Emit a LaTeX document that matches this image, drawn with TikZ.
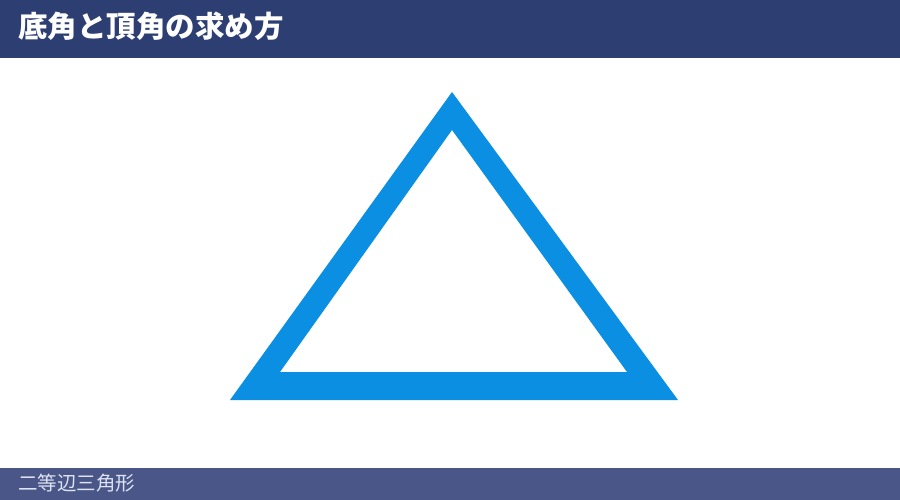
\documentclass[tikz,border=0pt]{standalone}
\usepackage{fontspec}
\newfontfamily\jpfont{Noto Sans CJK JP}
\definecolor{headnavy}{RGB}{45,62,115}
\definecolor{footnavy}{RGB}{74,86,135}
\definecolor{triblue}{RGB}{10,143,226}
\definecolor{foottext}{RGB}{222,228,245}
\tikzset{
  bartitle/.style={anchor=west, inner sep=0pt, text=white, font=\jpfont\bfseries\fontsize{29.5}{29.5}\selectfont},
  barnote/.style={anchor=west, inner sep=0pt, text=foottext, font=\jpfont\fontsize{19.5}{19.5}\selectfont}
}
\begin{document}
\begin{tikzpicture}[x=1pt, y=-1pt]

  \useasboundingbox (0,0) rectangle (900,500); %% page

  %% bars
  \fill[headnavy] (0,0) rectangle (900,58);
  \fill[footnavy] (0,468) rectangle (900,500);
  \node[bartitle] (title) at (18,26) {底角と頂角の求め方};
  \node[barnote] (note) at (18,483) {二等辺三角形};

  %% triangle
  \coordinate (apexout) at (452,92);
  \coordinate (leftout) at (230,400);
  \coordinate (rightout) at (678,400);
  \coordinate (apexin) at (452,130);
  \coordinate (leftin) at (280,372);
  \coordinate (rightin) at (627,372);
  \fill[triblue, even odd rule]
  (apexout) -- (leftout) -- (rightout) -- cycle
  (apexin) -- (leftin) -- (rightin) -- cycle;

\end{tikzpicture}
\end{document}
